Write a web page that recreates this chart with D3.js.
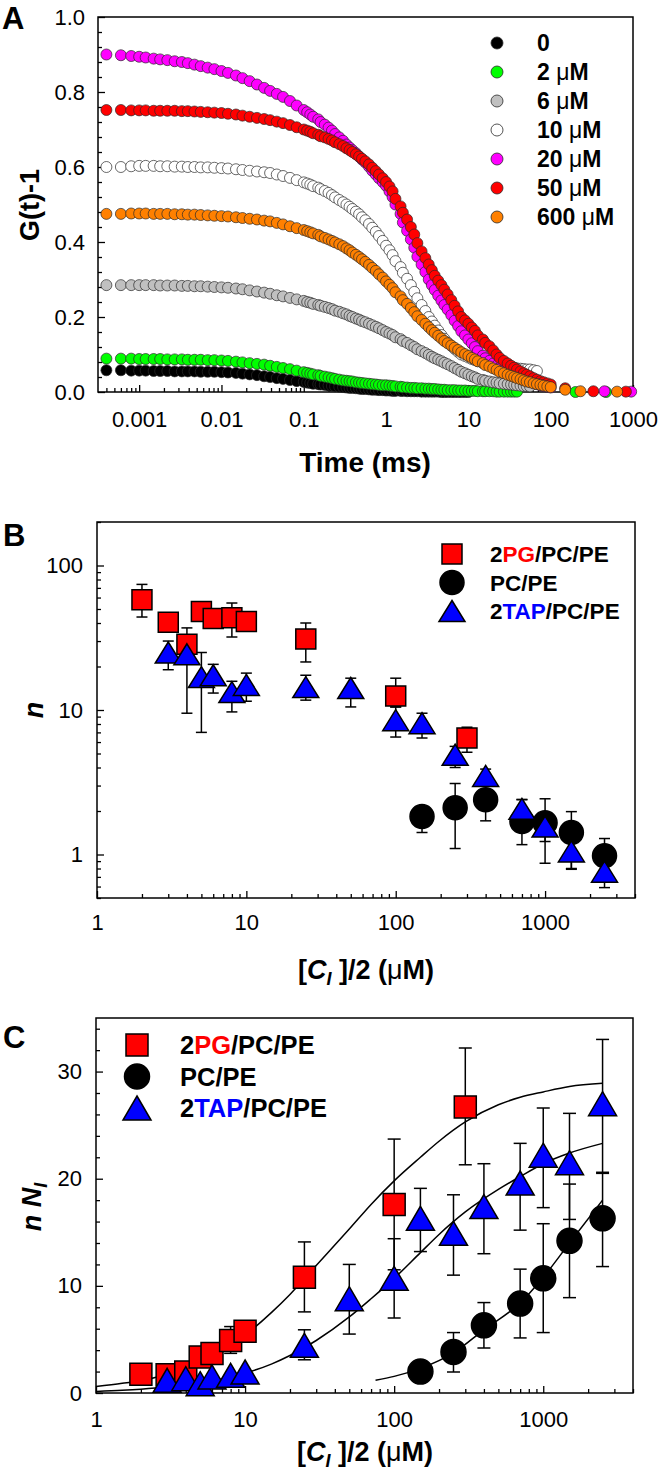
<!DOCTYPE html>
<html>
<meta charset="UTF-8">

<head>
  <script src="https://cdn.jsdelivr.net/npm/d3@7/dist/d3.min.js"></script>
  <style>
    body { margin: 0; background: #fff; }
    svg { display: block; }
  </style>
</head>

<body>
  <svg width="659" height="1471"></svg>

  <script type="text/javascript">
    // ---------- panel A : autocorrelation curves ----------
    const lagMs = [0.0004, 0.0006, 0.0008,
      0.001, 0.0012, 0.0015, 0.0018, 0.0022, 0.0027, 0.0033, 0.0039, 0.0047, 0.0056, 0.0068, 0.0082,
      0.01, 0.012, 0.015, 0.018, 0.022, 0.027, 0.033, 0.039, 0.047, 0.056, 0.068, 0.082,
      0.1, 0.11, 0.12, 0.13, 0.15, 0.16, 0.18, 0.2, 0.22, 0.24, 0.27, 0.3, 0.33, 0.36, 0.39, 0.43, 0.47, 0.51, 0.56, 0.62, 0.68, 0.75, 0.82, 0.91,
      1, 1.1, 1.2, 1.3, 1.5, 1.6, 1.8, 2, 2.2, 2.4, 2.7, 3, 3.3, 3.6, 3.9, 4.3, 4.7, 5.1, 5.6, 6.2, 6.8, 7.5, 8.2, 9.1,
      10, 11, 12, 13, 15, 16, 18, 20, 22, 24, 27, 30, 33, 36, 39, 43, 47, 51, 56, 62, 68, 75, 82, 91,
      100]

    const g0uM = [.058, .058, .057,
      .057, .057, .056, .056, .056, .055, .055, .055, .055, .054, .054, .054,
      .053, .052, .051, .049, .047, .045, .042, .040, .037, .035, .032, .029,
      .027, .025, .024, .022, .021, .020, .019, .017, .016, .015, .014, .013, .012, .011, .011, .010, .009, .008, .008, .007, .006, .006, .005, .005,
      .004, .004, .003, .003, .003, .003, .002, .002, .002, .002, .001, .001, .001, .001, .001, .001, 0, 0, 0, 0, 0, 0, 0, 0,
      0]
    const g2uM = [.089, .089, .089,
      .088, .088, .088, .088, .087, .087, .087, .086, .086, .086, .085, .085,
      .084, .083, .081, .079, .077, .075, .073, .070, .067, .064, .061, .057,
      .053, .051, .049, .047, .045, .043, .041, .039, .037, .035, .033, .031, .030, .029, .028, .026, .025, .024, .023, .022, .021, .020, .019, .018,
      .018, .017, .016, .015, .014, .013, .012, .011, .011, .010, .010, .009, .009, .008, .008, .007, .006, .006, .005, .005, .005, .004, .004, .004,
      .003, .003, .003, .002, .002, .002, .002, .002, .001, .001, .001, .001, .001, .001, .001]
    const g6uM = [.285, .285, .285,
      .285, .285, .285, .284, .284, .284, .283, .283, .282, .282, .281, .280,
      .279, .278, .276, .274, .271, .268, .265, .262, .258, .255, .251, .247,
      .243, .240, .238, .235, .232, .230, .227, .224, .221, .217, .214, .210, .207, .203, .200, .196, .193, .189, .186, .182, .178, .174, .170, .165,
      .160, .156, .152, .146, .141, .136, .131, .125, .120, .114, .109, .104, .099, .094, .090, .086, .082, .078, .074, .069, .064, .059, .054, .050,
      .046, .042, .039, .035, .032, .030, .028, .026, .025, .023, .022, .021, .020, .019, .018, .017, .016, .016, .015]
    const g10uM = [.600, .600, .602,
      .603, .603, .603, .602, .602, .601, .601, .600, .600, .599, .599, .598,
      .597, .596, .594, .592, .590, .588, .586, .584, .580, .576, .571, .565,
      .559, .556, .553, .549, .545, .541, .536, .531, .525, .519, .512, .506, .500, .494, .488, .481, .474, .466, .458, .448, .438, .427, .416, .403,
      .390, .378, .365, .349, .333, .318, .302, .285, .267, .250, .232, .216, .200, .188, .177, .164, .152, .142, .132, .123, .115, .107, .100, .096,
      .092, .088, .085, .082, .079, .076, .074, .072, .070, .068, .067, .066, .065, .064, .063, .062, .061, .060, .060, .058, .056]
    const g20uM = [.900, .898, .896,
      .894, .892, .889, .887, .885, .882, .880, .877, .873, .869, .865, .861,
      .856, .851, .844, .837, .829, .820, .811, .803, .795, .787, .776, .764,
      .752, .746, .740, .734, .727, .720, .713, .705, .697, .688, .679, .670, .660, .652, .645, .637, .628, .620, .612, .601, .590, .580, .570, .560,
      .550, .535, .520, .500, .475, .452, .430, .407, .385, .361, .340, .320, .300, .285, .272, .257, .244, .232, .220, .205, .190, .176, .162, .151,
      .140, .130, .120, .109, .097, .090, .083, .076, .070, .064, .058, .053, .048, .044, .040, .036, .032, .030, .027, .024, .021, .018, .016, .014,
      .012]
    const g50uM = [.752, .752, .751,
      .751, .751, .750, .750, .750, .750, .749, .749, .748, .747, .746, .745,
      .744, .742, .740, .737, .734, .731, .728, .725, .721, .717, .712, .706,
      .700, .697, .694, .690, .686, .682, .679, .675, .671, .666, .661, .656, .650, .645, .640, .634, .628, .622, .615, .607, .598, .589, .580, .570,
      .560, .548, .535, .515, .495, .478, .460, .440, .420, .397, .375, .357, .340, .325, .310, .297, .285, .273, .260, .245, .230, .215, .200, .191,
      .182, .172, .163, .151, .140, .131, .122, .111, .100, .091, .083, .076, .070, .065, .060, .055, .050, .046, .042, .037, .033, .029, .026, .023,
      .020]
    const g600uM = [.475, .475, .476,
      .476, .476, .475, .475, .475, .474, .474, .473, .473, .472, .471, .470,
      .469, .468, .466, .464, .462, .460, .457, .455, .451, .447, .442, .437,
      .432, .429, .426, .423, .419, .415, .411, .407, .403, .399, .394, .389, .383, .378, .372, .366, .360, .354, .347, .339, .331, .323, .314, .305,
      .295, .286, .277, .266, .255, .245, .235, .224, .213, .202, .192, .182, .173, .165, .158, .150, .143, .136, .130, .124, .118, .112, .106, .101,
      .096, .091, .087, .082, .077, .072, .068, .063, .059, .054, .050, .046, .043, .040, .037, .034, .031, .028, .026, .023, .021, .019, .017, .015,
      .013]

    // sparse long-lag points [ms, G]
    const tail2uM = [[200, 0], [470, 0]]
    const tail20uM = [[450, .002], [950, .001]]
    const tail50uM = [[150, .010], [330, .002], [820, .001]]
    const tail600uM = [[150, .006], [230, .002], [640, .001]]

    const concLabels = ["0", "2 μM", "6 μM", "10 μM", "20 μM", "50 μM", "600 μM"]
    const concColors = ["#000000", "#00ff00", "#c0c0c0", "#ffffff", "#ff00ff", "#ff0000", "#ff8000"]
    const timeTicks = [0.001, 0.01, 0.1, 1, 10, 100, 1000]
    const gTicks = [0, 0.2, 0.4, 0.6, 0.8, 1.0]

    // ---------- panels B and C ----------
    const pgConc = [2, 3, 4, 5, 6, 8, 10, 25, 100, 300]
    const tapConc = [3, 4, 5, 6, 8, 10, 25, 50, 100, 150, 250, 400, 700, 1000, 1500, 2500]
    const pcConc = [150, 250, 400, 700, 1000, 1500, 2500]

    // B : n
    const pgN = [58, 40.5, 28.5, 48, 43, 43.5, 41, 31, 12.5, 6.4]
    const pgNLo = [44, 40.5, 28.5, 48, 43, 32, 41, 21.5, 10.5, 5.1]
    const pgNHi = [74, 40.5, 37, 48, 43, 55, 41, 40, 16.6, 7.6]
    const tapN = [25, 24.3, 16.9, 17.4, 13.3, 14.9, 14.4, 14.2, 8.5, 8.1, 4.9, 3.5, 2.07, 1.56, 1.05, 0.76]
    const tapNLo = [19, 9.5, 7.0, 13.1, 9.7, 11.5, 11.7, 10.5, 6.5, 6.4, 4.0, 3.5, 2.07, 1.23, 0.79, 0.59]
    const tapNHi = [30, 30, 25, 20.7, 15.8, 18, 17.4, 16.6, 10.5, 9.5, 5.6, 3.9, 2.4, 1.9, 1.2, 0.9]
    const pcN = [1.83, 2.11, 2.39, 1.69, 1.66, 1.42, 0.98]
    const pcNLo = [1.42, 1.1, 1.71, 1.17, 0.87, 0.8, 0.75]
    const pcNHi = [2.14, 3.1, 3.1, 2.4, 2.43, 1.98, 1.29]

    // C : n N_I
    const pgNN = [1.74, 1.7, 1.96, 3.36, 3.68, 4.9, 5.76, 10.8, 17.6, 26.7]
    const pgNNLo = [1.74, 1.7, 1.96, 3.36, 3.68, 3.7, 5.76, 7.57, 11.5, 21.3]
    const pgNNHi = [1.74, 1.7, 1.96, 3.36, 3.68, 6.2, 5.76, 14.1, 23.7, 32.2]
    const tapNN = [1.18, 1.34, 0.87, 1.5, 1.65, 1.96, 4.45, 8.8, 10.7, 16.3, 14.9, 17.4, 19.6, 22.2, 21.5, 27.0]
    const tapNNLo = [1.18, 1.34, 0.87, 1.5, 1.65, 1.96, 3.1, 5.5, 7.0, 13.2, 11.0, 13.0, 15.2, 17.3, 16.2, 20.6]
    const tapNNHi = [1.18, 1.34, 0.87, 1.5, 1.65, 1.96, 5.9, 12.0, 14.4, 19.1, 18.5, 21.4, 23.3, 26.6, 26.1, 33.0]
    const pcNN = [2.0, 3.83, 6.32, 8.35, 10.7, 14.2, 16.3]
    const pcNNLo = [2.0, 1.96, 4.2, 5.14, 5.64, 8.9, 11.8]
    const pcNNHi = [2.0, 5.64, 8.44, 11.56, 15.8, 19.5, 20.5]

    // fitted curves
    const fitConc = [1, 1.5, 2, 3, 5, 7, 10, 15, 20, 30, 50, 70, 100, 150, 200, 300, 500, 700, 1000, 1500, 2500]
    const pgFit = [0.6, 0.9, 1.15, 1.75, 2.85, 3.9, 5.4, 7.5, 9.2, 11.9, 15.3, 17.6, 19.8, 22.0, 23.5, 25.3, 26.9, 27.6, 28.1, 28.6, 28.9]
    const tapFit = [0.15, 0.25, 0.35, 0.55, 0.95, 1.3, 1.85, 2.7, 3.5, 4.9, 7.1, 8.8, 10.7, 13.1, 14.8, 16.9, 19.0, 20.2, 21.4, 22.4, 23.3]
    const pcFitConc = [75, 100, 150, 250, 400, 700, 1000, 1500, 2500]
    const pcFit = [1.2, 1.55, 2.3, 3.75, 5.9, 8.4, 10.8, 14.0, 18.0]

    const concTicks = [1, 10, 100, 1000]
    const nTicks = [1, 10, 100]
    const nnTicks = [0, 10, 20, 30]

    const FONT = 'Arial, "Liberation Sans", Helvetica, sans-serif'
    const TICK = 22
    const svg = d3.select("svg").style("font-family", FONT)

    function styleAxis(g, size) {
      g.select(".domain").remove()
      g.selectAll(".tick line").style("stroke", "#000").style("stroke-width", 1.3)
      g.selectAll(".tick text").style("font-size", size + "px").style("fill", "#000").style("font-family", FONT)
    }

    function isDecade(t) {
      const l = Math.log10(t)
      return Math.abs(l - Math.round(l)) < 1e-6
    }

    function frame(g, x, y) {
      const [x0, x1] = x.range(), [y0, y1] = y.range()
      g.append("rect")
        .attr("x", x0).attr("y", y1)
        .attr("width", x1 - x0).attr("height", y0 - y1)
        .style("fill", "none").style("stroke", "#000").style("stroke-width", 1.5)
    }

    function bottomAxes(g, x, y, majors, fmt, minors, pad) {
      const y0 = y.range()[0]
      g.append("g").attr("transform", `translate(0,${y0})`)
        .call(d3.axisBottom(x).tickValues(minors).tickFormat("").tickSize(-4))
        .call(a => styleAxis(a, TICK))
      g.append("g").attr("transform", `translate(0,${y0})`)
        .call(d3.axisBottom(x).tickValues(majors).tickFormat(fmt).tickSize(-7).tickPadding(pad))
        .call(a => styleAxis(a, TICK))
    }

    function leftAxes(g, x, y, majors, fmt, minors, pad) {
      const x0 = x.range()[0]
      g.append("g").attr("transform", `translate(${x0},0)`)
        .call(d3.axisLeft(y).tickValues(minors).tickFormat("").tickSize(-4))
        .call(a => styleAxis(a, TICK))
      g.append("g").attr("transform", `translate(${x0},0)`)
        .call(d3.axisLeft(y).tickValues(majors).tickFormat(fmt).tickSize(-7).tickPadding(pad))
        .call(a => styleAxis(a, TICK))
    }

    function panelLetter(txt, x, y) {
      svg.append("text").attr("x", x).attr("y", y)
        .style("font-size", "31px").style("font-weight", "bold").text(txt)
    }

    function concTitle(g, cx, y) {
      const t = g.append("text").attr("x", cx).attr("y", y)
        .style("text-anchor", "middle").style("font-size", "27px").style("font-weight", "bold")
      t.append("tspan").text("[")
      t.append("tspan").style("font-style", "italic").text("C")
      t.append("tspan").style("font-style", "italic").style("font-size", "18px").attr("dy", 6).text("I")
      t.append("tspan").attr("dy", -6).text(" ]/2 (")
      t.append("tspan").style("font-weight", "normal").text("μ")
      t.append("tspan").text("M)")
    }

    // ================= A =================
    const xA = d3.scaleLog().domain([Math.pow(10, -3.5), 1000]).range([98, 633])
    const yA = d3.scaleLinear().domain([0, 1]).range([392, 17])
    const gA = svg.append("g")

    frame(gA, xA, yA)
    bottomAxes(gA, xA, yA, timeTicks, d => String(d), xA.ticks().filter(t => !isDecade(t)), 19)
    leftAxes(gA, xA, yA, gTicks, d3.format(".1f"),
      d3.range(0, 26).map(i => i * 0.04).filter(v => Math.abs(v / 0.2 - Math.round(v / 0.2)) > 1e-6), 13)

    const seriesA = [g0uM, g2uM, g6uM, g10uM, g20uM, g50uM, g600uM]
    const tailsA = [[], tail2uM, [], [], tail20uM, tail50uM, tail600uM]

    seriesA.forEach((vals, i) => {
      const pts = vals.map((v, j) => [lagMs[j], v]).concat(tailsA[i])
      gA.append("g")
        .selectAll("circle")
        .data(pts)
        .enter()
        .append("circle")
        .attr("cx", d => xA(d[0]))
        .attr("cy", d => yA(d[1]))
        .attr("r", 5.5)
        .style("fill", concColors[i])
        .style("stroke", "#2a2a2a")
        .style("stroke-width", 0.7)
    })

    const legA = gA.append("g")
      .selectAll("g")
      .data(concLabels)
      .enter()
      .append("g")
      .attr("transform", (d, i) => `translate(497,${43 + i * 29})`)
    legA.append("circle").attr("r", 6)
      .style("fill", (d, i) => concColors[i]).style("stroke", "#2a2a2a").style("stroke-width", 0.8)
    legA.append("text").attr("x", 40).attr("dy", "0.36em")
      .style("font-size", "23px").style("font-weight", "bold")
      .each(function (d) {
        const parts = d.split("μ")
        const t = d3.select(this)
        t.append("tspan").text(parts[0])
        if (parts.length > 1) {
          t.append("tspan").style("font-weight", "normal").text("μ")
          t.append("tspan").text(parts[1])
        }
      })

    gA.append("text").attr("x", 365).attr("y", 472)
      .style("text-anchor", "middle").style("font-size", "28px").style("font-weight", "bold")
      .text("Time (ms)")
    gA.append("text").attr("transform", "translate(30,205) rotate(-90)").attr("dy", "0.35em")
      .style("text-anchor", "middle").style("font-size", "27px").style("font-weight", "bold")
      .text("G(t)-1")
    panelLetter("A", 2, 29)

    // ================= shared marker helpers =================
    const groupNames = [
      [["2", "#000"], ["PG", "#ff0000"], ["/PC/PE", "#000"]],
      [["PC/PE", "#000"]],
      [["2", "#000"], ["TAP", "#0000ff"], ["/PC/PE", "#000"]]
    ]

    function markerPath(shape, s) {
      if (shape === "square") return d3.symbol().type(d3.symbolSquare).size(s.w * s.w)()
      if (shape === "circle") return d3.symbol().type(d3.symbolCircle).size(Math.PI * s.r * s.r)()
      return `M0,${-s.h / 2}L${s.w / 2},${s.h / 2}L${-s.w / 2},${s.h / 2}Z`
    }

    function errorBars(g, x, y, xs, lo, hi, vals, cap) {
      const d = xs.map((c, i) => ({ c, lo: lo[i], hi: hi[i], v: vals[i] }))
        .filter(e => e.lo < e.v || e.hi > e.v)
      const eb = g.append("g").style("stroke", "#000").style("stroke-width", 1.5)
      eb.selectAll("line.v").data(d).enter().append("line")
        .attr("x1", e => x(e.c)).attr("x2", e => x(e.c))
        .attr("y1", e => y(e.lo)).attr("y2", e => y(e.hi))
      eb.selectAll("line.h").data(d.filter(e => e.hi > e.v)).enter().append("line")
        .attr("x1", e => x(e.c) - cap / 2).attr("x2", e => x(e.c) + cap / 2)
        .attr("y1", e => y(e.hi)).attr("y2", e => y(e.hi))
      eb.selectAll("line.l").data(d.filter(e => e.lo < e.v)).enter().append("line")
        .attr("x1", e => x(e.c) - cap / 2).attr("x2", e => x(e.c) + cap / 2)
        .attr("y1", e => y(e.lo)).attr("y2", e => y(e.lo))
    }

    function markers(g, x, y, xs, vals, shape, s, fill) {
      g.append("g")
        .selectAll("path")
        .data(xs.map((c, i) => [c, vals[i]]))
        .enter()
        .append("path")
        .attr("transform", d => `translate(${x(d[0])},${y(d[1])})`)
        .attr("d", markerPath(shape, s))
        .style("fill", fill)
        .style("stroke", "#000")
        .style("stroke-width", 1.5)
    }

    function legend(g, x0, y0, dy, tx, size, sizes) {
      const shapes = ["square", "circle", "triangle"]
      const fills = ["#ff0000", "#000000", "#0000ff"]
      groupNames.forEach((parts, i) => {
        const row = g.append("g").attr("transform", `translate(${x0},${y0 + i * dy})`)
        row.append("path").attr("d", markerPath(shapes[i], sizes[i]))
          .style("fill", fills[i]).style("stroke", "#000").style("stroke-width", 1.5)
        const t = row.append("text").attr("x", tx).attr("dy", "0.36em")
          .style("font-size", size + "px").style("font-weight", "bold")
        parts.forEach(p => t.append("tspan").style("fill", p[1]).text(p[0]))
      })
    }

    // ================= B =================
    const xB = d3.scaleLog().domain([1, 4000]).range([97, 635])
    const yB = d3.scaleLog().domain([0.5, 200]).range([898, 522])
    const gB = svg.append("g")

    frame(gB, xB, yB)
    bottomAxes(gB, xB, yB, concTicks, d => String(d), xB.ticks().filter(t => !isDecade(t)), 16)
    leftAxes(gB, xB, yB, nTicks, d => String(d), yB.ticks().filter(t => !isDecade(t)), 14)

    const sizeB = [{ w: 20 }, { r: 12 }, { w: 26, h: 21 }]
    errorBars(gB, xB, yB, pcConc, pcNLo, pcNHi, pcN, 11)
    errorBars(gB, xB, yB, pgConc, pgNLo, pgNHi, pgN, 11)
    errorBars(gB, xB, yB, tapConc, tapNLo, tapNHi, tapN, 11)
    markers(gB, xB, yB, pcConc, pcN, "circle", sizeB[1], "#000000")
    markers(gB, xB, yB, pgConc, pgN, "square", sizeB[0], "#ff0000")
    markers(gB, xB, yB, tapConc, tapN, "triangle", sizeB[2], "#0000ff")
    legend(gB, 452, 554, 28.5, 38, 22.5, sizeB)

    concTitle(gB, 366, 979)
    gB.append("text").attr("transform", "translate(34,710) rotate(-90)").attr("dy", "0.35em")
      .style("text-anchor", "middle").style("font-size", "27px").style("font-weight", "bold")
      .style("font-style", "italic").text("n")
    panelLetter("B", 3, 546)

    // ================= C =================
    const xC = d3.scaleLog().domain([1, 4000]).range([96, 633])
    const yC = d3.scaleLinear().domain([0, 35]).range([1393, 1018])
    const gC = svg.append("g")

    frame(gC, xC, yC)
    bottomAxes(gC, xC, yC, concTicks, d => String(d), xC.ticks().filter(t => !isDecade(t)), 18)
    leftAxes(gC, xC, yC, nnTicks, d => String(d), d3.range(0, 36, 2).filter(v => v % 10 !== 0), 14)

    const line = d3.line().curve(d3.curveMonotoneX)
    const fitStyle = p => p.style("fill", "none").style("stroke", "#000").style("stroke-width", 1.5)
    gC.append("path").attr("d", line(fitConc.map((c, i) => [xC(c), yC(pgFit[i])]))).call(fitStyle)
    gC.append("path").attr("d", line(fitConc.map((c, i) => [xC(c), yC(tapFit[i])]))).call(fitStyle)
    gC.append("path").attr("d", line(pcFitConc.map((c, i) => [xC(c), yC(pcFit[i])]))).call(fitStyle)

    const sizeC = [{ w: 22 }, { r: 12.5 }, { w: 28, h: 24 }]
    errorBars(gC, xC, yC, pcConc, pcNNLo, pcNNHi, pcNN, 13)
    errorBars(gC, xC, yC, pgConc, pgNNLo, pgNNHi, pgNN, 13)
    errorBars(gC, xC, yC, tapConc, tapNNLo, tapNNHi, tapNN, 13)
    markers(gC, xC, yC, pcConc, pcNN, "circle", sizeC[1], "#000000")
    markers(gC, xC, yC, pgConc, pgNN, "square", sizeC[0], "#ff0000")
    markers(gC, xC, yC, tapConc, tapNN, "triangle", sizeC[2], "#0000ff")
    legend(gC, 137, 1045, 31.5, 43, 25.5, sizeC)

    concTitle(gC, 365, 1461)
    const yt = gC.append("text").attr("transform", "translate(32,1207) rotate(-90)").attr("dy", "0.35em")
      .style("text-anchor", "middle").style("font-size", "27px").style("font-weight", "bold")
      .style("font-style", "italic")
    yt.append("tspan").text("n N")
    yt.append("tspan").style("font-size", "18px").attr("dy", 6).text("I")
    panelLetter("C", 3, 1048)
  </script>
</body>

</html>
